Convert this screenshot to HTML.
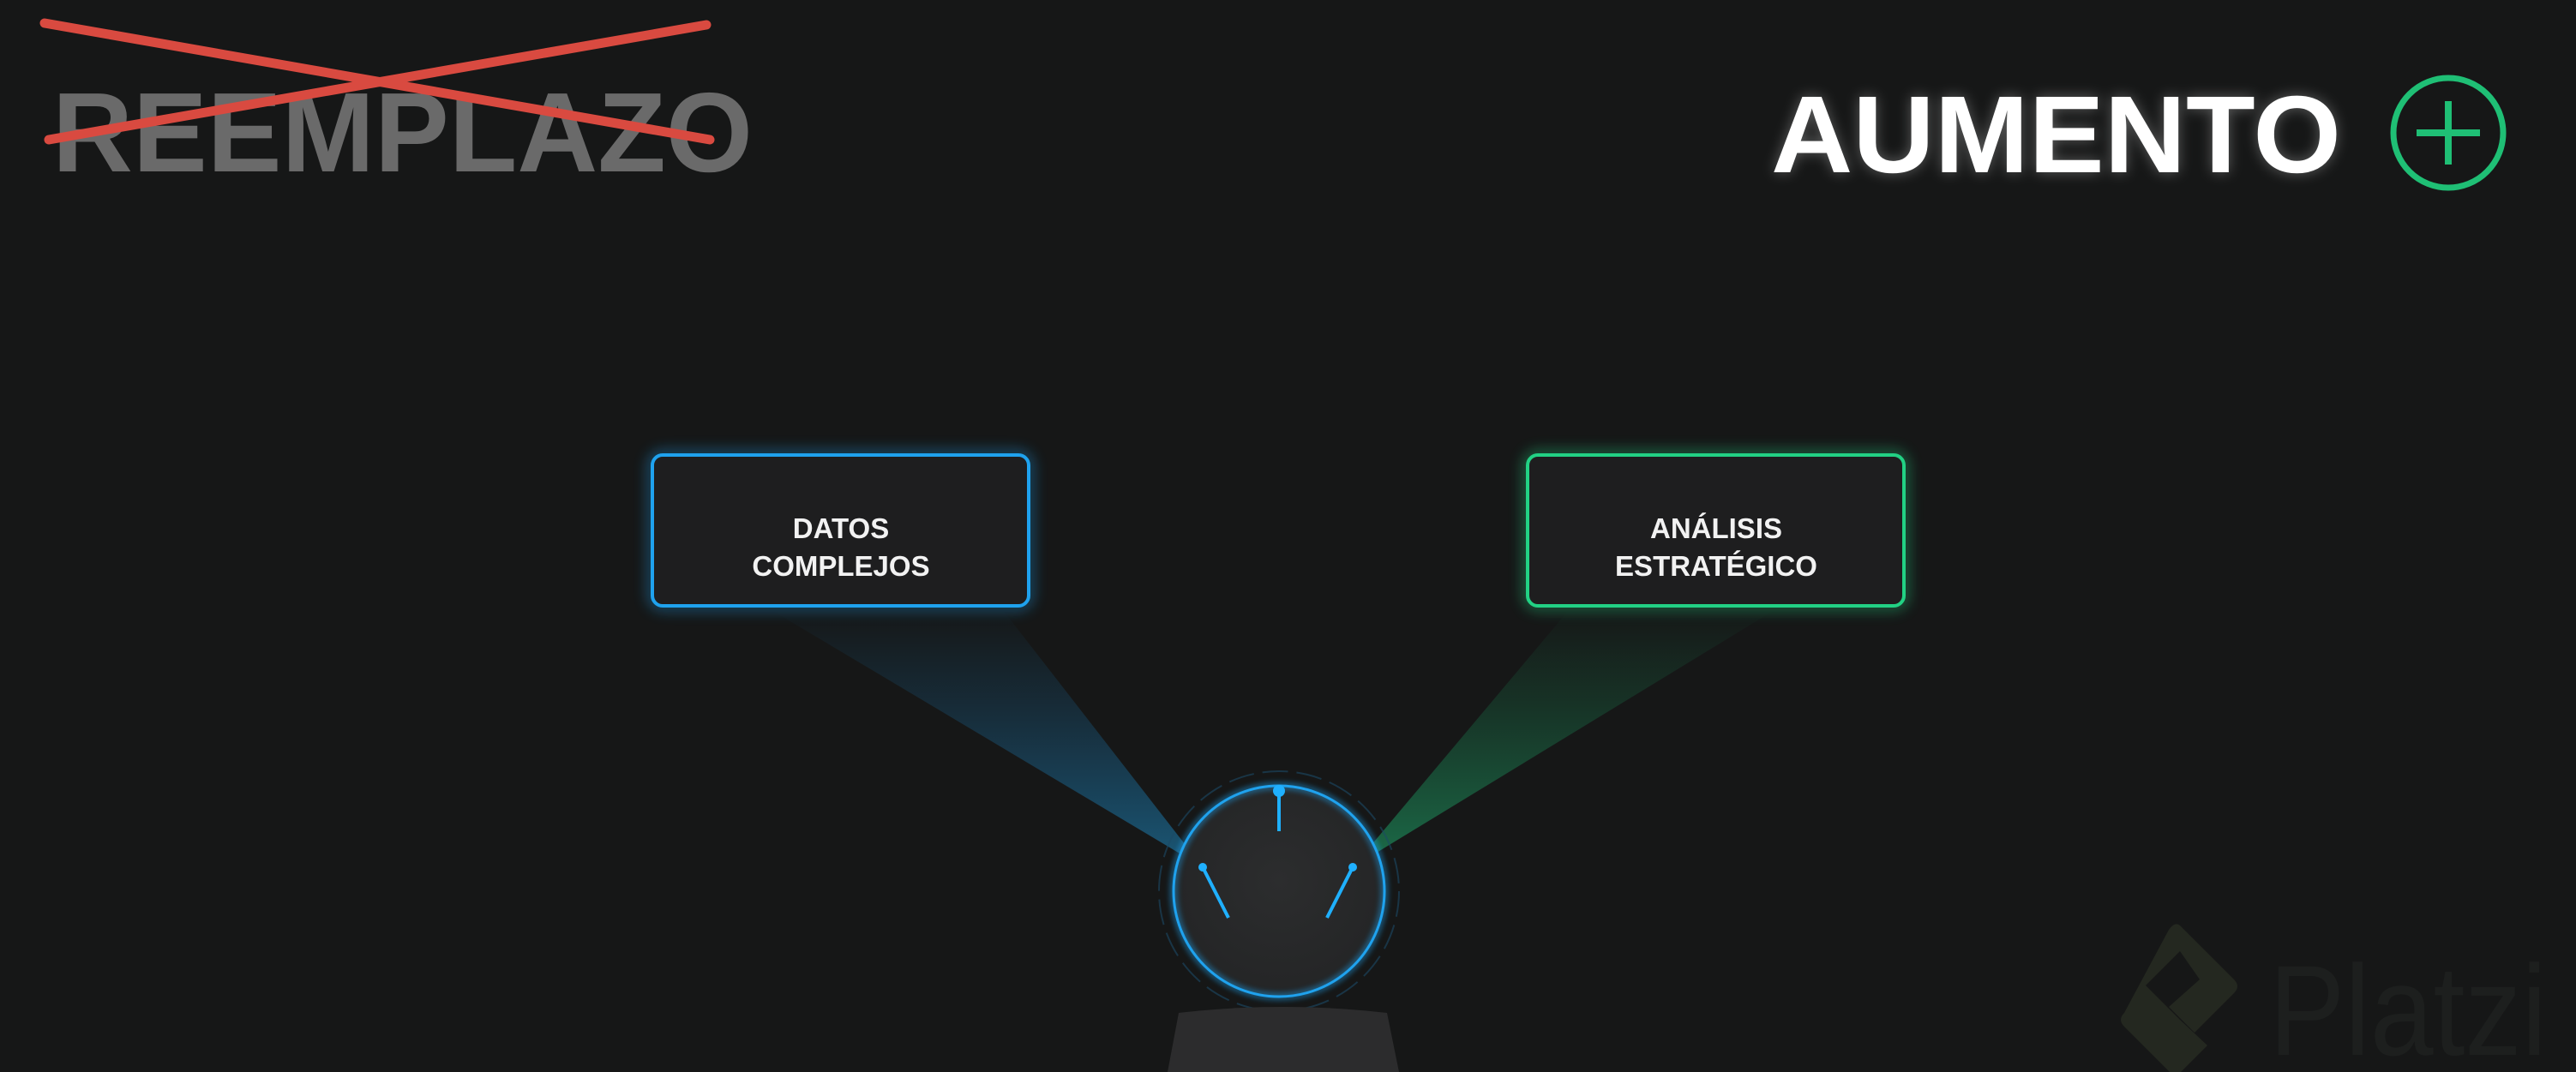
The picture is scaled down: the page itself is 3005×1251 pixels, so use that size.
<!DOCTYPE html>
<html><head><meta charset="utf-8"><style>
html,body{margin:0;padding:0;background:#161717;}
body{width:3005px;height:1251px;overflow:hidden;position:relative;font-family:"Liberation Sans",sans-serif;}
</style></head><body>
<svg width="3005" height="1251" viewBox="0 0 3005 1251" xmlns="http://www.w3.org/2000/svg" style="position:absolute;left:0;top:0">
<defs>
<linearGradient id="bb" x1="0" y1="0" x2="0" y2="1"><stop offset="0" stop-color="#1a8fd6" stop-opacity="0"/><stop offset="0.35" stop-color="#1a7fbf" stop-opacity="0.18"/><stop offset="1" stop-color="#1f9ad8" stop-opacity="0.5"/></linearGradient>
<linearGradient id="gb" x1="0" y1="0" x2="0" y2="1"><stop offset="0" stop-color="#1fbf75" stop-opacity="0"/><stop offset="0.35" stop-color="#1aa866" stop-opacity="0.18"/><stop offset="1" stop-color="#22c47c" stop-opacity="0.5"/></linearGradient>
<filter id="glow" x="-20%" y="-20%" width="140%" height="140%"><feGaussianBlur stdDeviation="8"/></filter>
<filter id="blur3"><feGaussianBlur stdDeviation="3"/></filter>
<radialGradient id="dial" cx="0.5" cy="0.45" r="0.55"><stop offset="0" stop-color="#2c2d2e"/><stop offset="1" stop-color="#242526"/></radialGradient>
</defs>
<polygon points="900,712 1170,712 1403,1012" fill="url(#bb)"/>
<polygon points="1830,712 2070,712 1578,1012" fill="url(#gb)"/>
<rect x="761" y="531" width="439" height="176" rx="12" fill="none" stroke="#1a9be6" stroke-width="10" opacity="0.5" filter="url(#glow)"/>
<rect x="1782" y="531" width="439" height="176" rx="12" fill="none" stroke="#20d083" stroke-width="10" opacity="0.5" filter="url(#glow)"/>
<rect x="761" y="531" width="439" height="176" rx="12" fill="#1e1e1f" stroke="#1fa2ee" stroke-width="4"/>
<rect x="1782" y="531" width="439" height="176" rx="12" fill="#1e1e1f" stroke="#22d184" stroke-width="4"/>
<g font-family="Liberation Sans, sans-serif" font-weight="bold" font-size="33" fill="#f2f2f2" text-anchor="middle">
<text x="981" y="628">DATOS</text><text x="981" y="672">COMPLEJOS</text>
<text x="2002" y="628">ANÁLISIS</text><text x="2002" y="672">ESTRATÉGICO</text>
</g>
<circle cx="1492" cy="1040" r="140" fill="none" stroke="#1d4a66" stroke-width="2" stroke-dasharray="30 10" opacity="0.6"/>
<circle cx="1492" cy="1040" r="123" fill="url(#dial)"/>
<circle cx="1492" cy="1040" r="123" fill="none" stroke="#1fa2ee" stroke-width="10" opacity="0.4" filter="url(#blur3)"/>
<circle cx="1492" cy="1040" r="123" fill="none" stroke="#1fa2ee" stroke-width="3"/>
<g stroke="#1fb0ff" stroke-width="4" fill="#1fb0ff">
<line x1="1492" y1="924" x2="1492" y2="970"/><circle cx="1492" cy="923" r="7" stroke="none"/>
<line x1="1403" y1="1012" x2="1433" y2="1071"/><circle cx="1403" cy="1012" r="5" stroke="none"/>
<line x1="1578" y1="1012" x2="1548" y2="1071"/><circle cx="1578" cy="1012" r="5" stroke="none"/>
</g>
<path d="M1375,1182 Q1496,1168 1618,1182 L1632,1251 L1362,1251 Z" fill="#2c2c2d"/>
<text x="61" y="200" font-family="Liberation Sans, sans-serif" font-weight="bold" font-size="132" fill="#6a6a6a" textLength="817" lengthAdjust="spacingAndGlyphs">REEMPLAZO</text>
<line x1="52" y1="27" x2="828" y2="163" stroke="#d94a40" stroke-width="11" stroke-linecap="round"/>
<line x1="57" y1="163" x2="824" y2="29" stroke="#d94a40" stroke-width="11" stroke-linecap="round"/>
<text x="2066" y="201" font-family="Liberation Sans, sans-serif" font-weight="bold" font-size="128" fill="#ffffff" opacity="0.3" filter="url(#glow)" textLength="665" lengthAdjust="spacingAndGlyphs">AUMENTO</text>
<text x="2066" y="201" font-family="Liberation Sans, sans-serif" font-weight="bold" font-size="128" fill="#ffffff" textLength="665" lengthAdjust="spacingAndGlyphs">AUMENTO</text>
<circle cx="2856" cy="155" r="64" fill="none" stroke="#1fbf75" stroke-width="7"/>
<line x1="2856" y1="118" x2="2856" y2="192" stroke="#1fbf75" stroke-width="8"/>
<line x1="2819" y1="155" x2="2893" y2="155" stroke="#1fbf75" stroke-width="8"/>
<path d="M2543,1080 L2606,1143 Q2614,1151 2606,1159 L2560,1205 L2530,1175 L2566,1143 L2543,1110 L2503,1150 L2543,1190 L2575,1220 L2545,1250 Q2538,1257 2530,1250 L2478,1198 Q2470,1190 2478,1182 L2530,1085 Q2537,1075 2543,1080 Z" fill="#242820"/>
<text x="2647" y="1231" font-family="Liberation Sans, sans-serif" font-size="150" fill="#1d1f1e" textLength="324" lengthAdjust="spacingAndGlyphs">Platzi</text>
</svg>
</body></html>
